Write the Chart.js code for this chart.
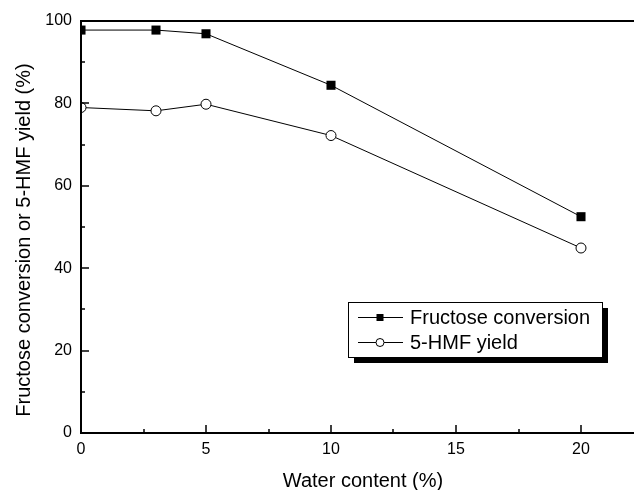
<!DOCTYPE html>
<html>
<head>
<meta charset="utf-8">
<script src="https://cdn.jsdelivr.net/npm/chart.js@4/dist/chart.umd.min.js"></script>
<style>
  html, body { margin: 0; padding: 0; background: #fff; }
  #wrap { width: 634px; height: 490px; }
</style>
</head>
<body>
<div id="wrap"><canvas id="chart" width="634" height="490"></canvas></div>
<script>
// data
const waterContent = [0, 3, 5, 10, 20];
const fructoseConversion = [97.8, 97.8, 96.9, 84.4, 52.5];
const hmfYield = [79.0, 78.2, 79.8, 72.2, 44.9];
const seriesNames = ['Fructose conversion', '5-HMF yield'];
const xTicks = [0, 5, 10, 15, 20];
const xMinor = [2.5, 7.5, 12.5, 17.5];
const yTicks = [0, 20, 40, 60, 80, 100];
const yMinor = [10, 30, 50, 70, 90];
const xTitle = 'Water content (%)';
const yTitle = 'Fructose conversion or 5-HMF yield (%)';

const FONT = '"Liberation Sans", Arial, sans-serif';

// axis frame with inward ticks, drawn over the data like the original
const framePlugin = {
    id: 'frame',
    beforeDatasetsDraw(chart) {
        // markers at x = 0 are cut by the axis in the original
        const { ctx, chartArea: a } = chart;
        ctx.save();
        ctx.beginPath();
        ctx.rect(a.left, a.top, a.right - a.left, a.bottom - a.top);
        ctx.clip();
    },
    afterDatasetsDraw(chart) {
        const { ctx, chartArea: a, scales } = chart;
        ctx.restore();
        ctx.save();
        ctx.strokeStyle = '#000';
        ctx.lineWidth = 2;
        ctx.beginPath();
        ctx.moveTo(a.left, a.top);
        ctx.lineTo(a.right, a.top);
        ctx.moveTo(a.left, a.top - 1);
        ctx.lineTo(a.left, a.bottom + 1);
        ctx.moveTo(a.left, a.bottom);
        ctx.lineTo(a.right, a.bottom);
        ctx.stroke();

        ctx.lineWidth = 1.5;
        ctx.beginPath();
        xTicks.forEach((v) => {
            const px = Math.round(scales.x.getPixelForValue(v));
            ctx.moveTo(px, a.bottom);
            ctx.lineTo(px, a.bottom - 8);
        });
        xMinor.forEach((v) => {
            const px = Math.round(scales.x.getPixelForValue(v));
            ctx.moveTo(px, a.bottom);
            ctx.lineTo(px, a.bottom - 4);
        });
        yTicks.forEach((v) => {
            const py = Math.round(scales.y.getPixelForValue(v));
            ctx.moveTo(a.left, py);
            ctx.lineTo(a.left + 8, py);
        });
        yMinor.forEach((v) => {
            const py = Math.round(scales.y.getPixelForValue(v));
            ctx.moveTo(a.left, py);
            ctx.lineTo(a.left + 4, py);
        });
        ctx.stroke();

        // axis titles, placed as in the figure (slightly off the plot centre)
        ctx.fillStyle = '#000';
        ctx.font = '20px ' + FONT;
        ctx.textAlign = 'center';
        ctx.textBaseline = 'middle';
        ctx.fillText(xTitle, 363, 481);
        ctx.textBaseline = 'alphabetic';
        ctx.translate(30, 240);
        ctx.rotate(-Math.PI / 2);
        ctx.fillText(yTitle, 0, 0);
        ctx.restore();
    },
};

// boxed legend with a solid drop shadow
const legendBoxPlugin = {
    id: 'legendBox',
    afterDraw(chart) {
        const { ctx } = chart;
        const box = { x: 348, y: 302, w: 254, h: 55 };
        ctx.save();
        ctx.fillStyle = '#000';
        ctx.fillRect(box.x + 6, box.y + 6, box.w, box.h);
        ctx.fillStyle = '#fff';
        ctx.fillRect(box.x, box.y, box.w, box.h);
        ctx.strokeStyle = '#000';
        ctx.lineWidth = 1;
        ctx.strokeRect(box.x + 0.5, box.y + 0.5, box.w, box.h);

        ctx.font = '20px ' + FONT;
        ctx.textBaseline = 'middle';
        ctx.textAlign = 'left';
        chart.data.datasets.forEach((ds, i) => {
            const cy = 317 + i * 25;
            ctx.strokeStyle = '#000';
            ctx.lineWidth = 1;
            ctx.beginPath();
            ctx.moveTo(358, cy + 0.5);
            ctx.lineTo(403, cy + 0.5);
            ctx.stroke();
            ctx.beginPath();
            if (ds.pointStyle === 'rect') {
                ctx.fillStyle = '#000';
                ctx.fillRect(376.5, cy - 3, 7, 7);
            } else {
                ctx.fillStyle = '#fff';
                ctx.arc(380, cy + 0.5, 4, 0, Math.PI * 2);
                ctx.fill();
                ctx.stroke();
            }
            ctx.fillStyle = '#000';
            ctx.fillText(ds.label, 410, cy + 1);
        });
        ctx.restore();
    },
};

new Chart(document.getElementById('chart'), {
    type: 'line',
    data: {
        datasets: [
            {
                label: seriesNames[0],
                data: waterContent.map((x, i) => ({ x, y: fructoseConversion[i] })),
                borderColor: '#000',
                borderWidth: 1,
                pointStyle: 'rect',
                pointRadius: 6.4,
                pointBackgroundColor: '#000',
                pointBorderColor: '#000',
                pointBorderWidth: 0,
                clip: 0,
            },
            {
                label: seriesNames[1],
                data: waterContent.map((x, i) => ({ x, y: hmfYield[i] })),
                borderColor: '#000',
                borderWidth: 1,
                pointStyle: 'circle',
                pointRadius: 5,
                pointBackgroundColor: '#fff',
                pointBorderColor: '#000',
                pointBorderWidth: 1,
                clip: 0,
            },
        ],
    },
    options: {
        responsive: false,
        animation: false,
        layout: {
            autoPadding: false,
            padding: { top: 21, right: 0, left: 0, bottom: 0 },
        },
        plugins: {
            legend: { display: false },
            tooltip: { enabled: false },
        },
        scales: {
            x: {
                type: 'linear',
                min: 0,
                max: 22.12,
                afterBuildTicks: (scale) => {
                    scale.ticks = xTicks.map((v) => ({ value: v }));
                },
                afterFit: (scale) => {
                    scale.height = 57;
                    scale.paddingLeft = 0;
                    scale.paddingRight = 0;
                },
                grid: { display: false, drawTicks: false },
                border: { display: false },
                ticks: {
                    padding: 7,
                    maxRotation: 0,
                    color: '#000',
                    font: { family: FONT, size: 16 },
                },
            },
            y: {
                min: 0,
                max: 100,
                afterBuildTicks: (scale) => {
                    scale.ticks = yTicks.map((v) => ({ value: v }));
                },
                afterFit: (scale) => {
                    scale.width = 81;
                    scale.paddingTop = 0;
                    scale.paddingBottom = 0;
                },
                grid: { display: false, drawTicks: false },
                border: { display: false },
                ticks: {
                    padding: 9,
                    color: '#000',
                    font: { family: FONT, size: 16 },
                },
            },
        },
    },
    plugins: [framePlugin, legendBoxPlugin],
});
</script>
</body>
</html>
